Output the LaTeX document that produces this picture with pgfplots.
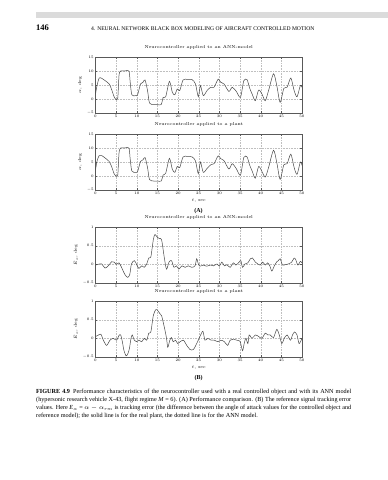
\documentclass[border=0pt]{standalone}
\usepackage{fix-cm}
\usepackage{fontspec}
\usepackage{pgfplots}
\pgfplotsset{compat=1.18}
\newfontfamily\capfont{Liberation Serif}
\begin{document}
\begin{tikzpicture}
\useasboundingbox (0pt,0pt) rectangle (388pt,-480pt);
\fill[gray!28] (36pt,-12pt) rectangle (388pt,-18pt);
\node[anchor=base west, font=\capfont\fontsize{8.5}{9}\selectfont\bfseries, inner sep=0] at (36pt,-30.5pt) {146};
\node[anchor=base west, font=\capfont\fontsize{5.6}{6}\selectfont, inner sep=0] at (91pt,-30.5pt) {4. NEURAL NETWORK BLACK BOX MODELING OF AIRCRAFT CONTROLLED MOTION};
\pgfplotsset{myax/.style={width=206.5pt,height=56pt,scale only axis,
  xmin=0,xmax=50,xtick={0,5,...,50},
  grid=major, grid style={dash pattern=on 0.4pt off 1.2pt, gray!50, line width=0.3pt},
  axis line style={black!65, line width=0.4pt},
  tick style={black!65, line width=0.3pt}, major tick length=1.8pt,
  tick label style={font=\fontsize{3.7}{4.5}\selectfont},
  xticklabel style={inner sep=1.6pt}, yticklabel style={inner sep=1.6pt},
  title style={font=\fontsize{4.3}{5}\selectfont, at={(0.5,1)}, anchor=south, inner sep=1.4pt},
  label style={font=\fontsize{4.3}{5}\selectfont},
  every axis plot post/.append style={line width=0.5pt, color=black!72, smooth, tension=0.45, mark=none}}}
% ---------- A1
\begin{axis}[myax, at={(95.5pt,-113pt)}, anchor=south west,
  ymin=-5,ymax=15,ytick={-5,0,5,10,15},
  title={Neurocontroller applied to an ANN-model}, ylabel={$\alpha$, deg}]
\addplot coordinates {
(0,1.8)(0.4,5)(0.9,7.5)(1.5,7.4)(2.1,6.8)(3.3,5.4)(4.0,3)(4.5,0.8)(5.0,-0.2)(5.4,0.5)
(5.7,8.5)(6.1,10)(7.1,10)(8.1,10)(8.4,6)(8.8,1.5)(9.7,1.2)(10.2,1.5)(10.9,5.4)(11.5,6)
(12.0,6.8)(12.6,3)(13.1,-1.5)(14.2,-2)(15.0,-2)(15.9,-2)(16.4,0.6)(17.0,0.8)(17.9,6.3)
(18.6,2.4)(19.2,1.5)(19.8,3.6)(20.4,3)(21.2,6.8)(22.3,7)(23.4,6.9)(24.2,5.4)(24.9,0.8)
(25.4,4.8)(26.1,1.2)(27.0,3)(27.9,4.2)(28.7,4.2)(29.7,7.1)(30.3,6)(31.1,5.4)(32.3,2.7)
(33.1,4.2)(34.1,2.7)(35.1,0.6)(35.9,6.5)(36.7,6.9)(37.3,4)(38.0,1.5)(38.7,-0.6)(39.5,3.2)
(40.3,1.8)(41.1,-0.6)(41.9,3)(43.1,9)(43.9,4.8)(44.7,-1.2)(45.6,3.8)(46.4,4.2)(47.3,7.5)
(48.1,3)(48.8,0.8)(49.6,4.8)(50,4.2)};
\end{axis}
% ---------- A2
\begin{axis}[myax, at={(95.5pt,-190pt)}, anchor=south west,
  ymin=-5,ymax=15,ytick={-5,0,5,10,15},
  title={Neurocontroller applied to a plant}, ylabel={$\alpha$, deg}, xlabel={$t$, sec}]
\addplot coordinates {
(0,2.2)(0.4,5.5)(0.9,7.3)(1.5,7.3)(2.1,6.7)(3.3,5.2)(4.0,3)(4.5,0.8)(5.0,0)(5.4,0.5)
(5.7,8.3)(6.1,10)(7.1,10)(8.1,10)(8.4,6)(8.8,1.8)(9.7,1.3)(10.2,1.6)(10.9,5.2)(11.5,5.8)
(12.0,6.6)(12.6,3)(13.1,-1.3)(14.2,-1.8)(15.0,-1.8)(15.9,-1.8)(16.4,0.4)(17.0,1)(17.9,6.3)
(18.6,2.4)(19.2,1.3)(19.8,3.4)(20.4,3)(21.2,6.8)(22.3,7.0)(23.4,6.8)(24.2,5.4)(24.9,0.8)
(25.4,5)(26.1,1.3)(27.0,2.7)(27.9,4.0)(28.7,4.4)(29.7,7.2)(30.3,6.2)(31.1,5.5)(32.3,2.5)
(33.1,4.4)(34.1,2.6)(35.1,0.3)(35.9,6.6)(36.7,6.8)(37.3,4)(38.0,1.5)(38.7,-0.8)(39.5,3.4)
(40.3,1.6)(41.1,-0.4)(41.9,3)(43.1,9.2)(43.9,4.8)(44.7,-1.2)(45.6,4)(46.4,4.4)(47.3,7.8)
(48.1,3)(48.8,0.6)(49.6,5)(50,3.8)};
\end{axis}
\node[font=\capfont\fontsize{6}{6}\selectfont\bfseries] at (198.5pt,-211.5pt) {(A)};
% ---------- B1
\begin{axis}[myax, at={(95.5pt,-283pt)}, anchor=south west,
  ymin=-0.5,ymax=1,ytick={-0.5,0,0.5,1},
  title={Neurocontroller applied to an ANN-model}, ylabel={$E_\alpha$, deg}]
\addplot coordinates {
(0,-0.02)(0.6,0)(1.5,0.01)(2.3,-0.1)(3.1,-0.04)(3.9,0.07)(4.5,0.06)(5.1,0)(5.7,0.04)
(6.3,-0.08)(7.1,-0.27)(7.8,-0.35)(8.3,-0.27)(8.7,0.01)(9.4,0.1)(9.9,0.01)(10.5,-0.11)
(11.2,-0.04)(11.8,-0.08)(12.4,0.01)(12.9,0.17)(13.4,0.2)(14,0.66)(14.4,0.8)(15,0.72)
(15.5,0.69)(16,0.66)(16.7,0.15)(17.2,-0.13)(17.8,0.06)(18.4,0.1)(19,-0.08)(19.6,-0.04)
(20.2,-0.13)(20.9,-0.04)(21.7,-0.08)(22.5,-0.04)(23.3,-0.08)(24.1,-0.04)(24.5,0.15)
(24.9,0.01)(25.3,-0.05)(26.1,-0.02)(26.9,-0.05)(27.8,-0.02)(28.6,-0.04)(29.4,0.01)
(30.0,-0.05)(30.6,0.06)(31.2,-0.04)(31.8,-0.01)(32.6,-0.08)(33.4,0.04)(34.0,-0.02)
(34.8,0.06)(35.2,0.1)(35.6,-0.08)(36.2,0.01)(36.9,0.04)(37.5,0.15)(38,0.17)(38.7,0.06)
(39.3,0.01)(39.9,-0.02)(40.5,0.06)(41.1,-0.02)(41.7,0.04)(42.2,-0.04)(42.7,-0.18)
(43.3,-0.04)(43.9,0.07)(44.3,0.1)(44.7,0.15)(45.3,-0.02)(45.9,-0.01)(46.7,0.01)
(47.5,0.06)(48.1,0.17)(48.5,0.12)(49,-0.02)(49.6,0.08)(50,0.04)};
\end{axis}
% ---------- B2
\begin{axis}[myax, at={(95.5pt,-357pt)}, anchor=south west,
  ymin=-0.5,ymax=1,ytick={-0.5,0,0.5,1},
  title={Neurocontroller applied to a plant}, ylabel={$E_\alpha$, deg}, xlabel={$t$, sec}]
\addplot coordinates {
(0,0.05)(0.6,0.08)(1.3,0.11)(1.9,-0.05)(2.7,-0.19)(3.5,-0.05)(4.3,0)(5.1,-0.05)
(5.7,0.08)(6.1,0.09)(6.5,-0.09)(6.9,-0.33)(7.4,-0.47)(7.8,-0.42)(8.2,-0.28)(8.6,0)
(8.9,0.09)(9.4,-0.05)(9.9,-0.09)(10.5,-0.05)(11.2,-0.09)(11.8,0)(12.4,-0.05)(12.9,0.14)
(13.4,0.17)(14,0.61)(14.6,0.77)(15.1,0.74)(15.6,0.66)(16,0.61)(16.7,0.28)(17.2,0)
(17.5,-0.24)(18,-0.05)(18.4,0.02)(18.8,-0.09)(19.4,-0.05)(19.9,-0.14)(20.5,-0.09)
(21.3,-0.05)(22.1,-0.19)(22.9,-0.3)(23.7,-0.3)(24.5,-0.14)(25.3,0.05)(26,0.19)
(26.5,-0.05)(27.2,0)(28,-0.05)(28.8,-0.05)(29.6,-0.09)(30.4,-0.05)(31.2,-0.09)
(32,-0.19)(32.6,-0.05)(33.4,-0.02)(34.2,-0.05)(35,-0.08)(35.6,-0.33)(36,-0.14)
(36.4,0)(36.9,-0.14)(37.2,0.09)(37.9,0)(38.7,0.09)(39.5,0.05)(40.3,0)(41.1,0.14)
(41.7,0.09)(42.3,0.09)(43.1,0.02)(43.9,0.24)(44.5,0.09)(45.1,-0.14)(45.7,0)
(46.4,0.09)(47.2,-0.05)(47.7,0.09)(48.2,0.17)(48.8,0.09)(49.3,-0.14)(50,0)};
\end{axis}
\node[font=\capfont\fontsize{6}{6}\selectfont\bfseries] at (198.5pt,-378pt) {(B)};
\node[anchor=north west, inner sep=0, text width=315pt, align=justify,
  font=\capfont\fontsize{6.2}{8}\selectfont] at (36pt,-389pt)
  {\textbf{FIGURE 4.9}\enspace Performance characteristics of the neurocontroller used with a real controlled object and with its ANN model (hypersonic research vehicle X-43, flight regime \emph{M}~=~6). (A) Performance comparison. (B) The reference signal tracking error values. Here \emph{E}$_\alpha$~=~$\alpha-\alpha_{rm}$ is tracking error (the difference between the angle of attack values for the controlled object and reference model); the solid line is for the real plant, the dotted line is for the ANN model.};
\end{tikzpicture}
\end{document}
